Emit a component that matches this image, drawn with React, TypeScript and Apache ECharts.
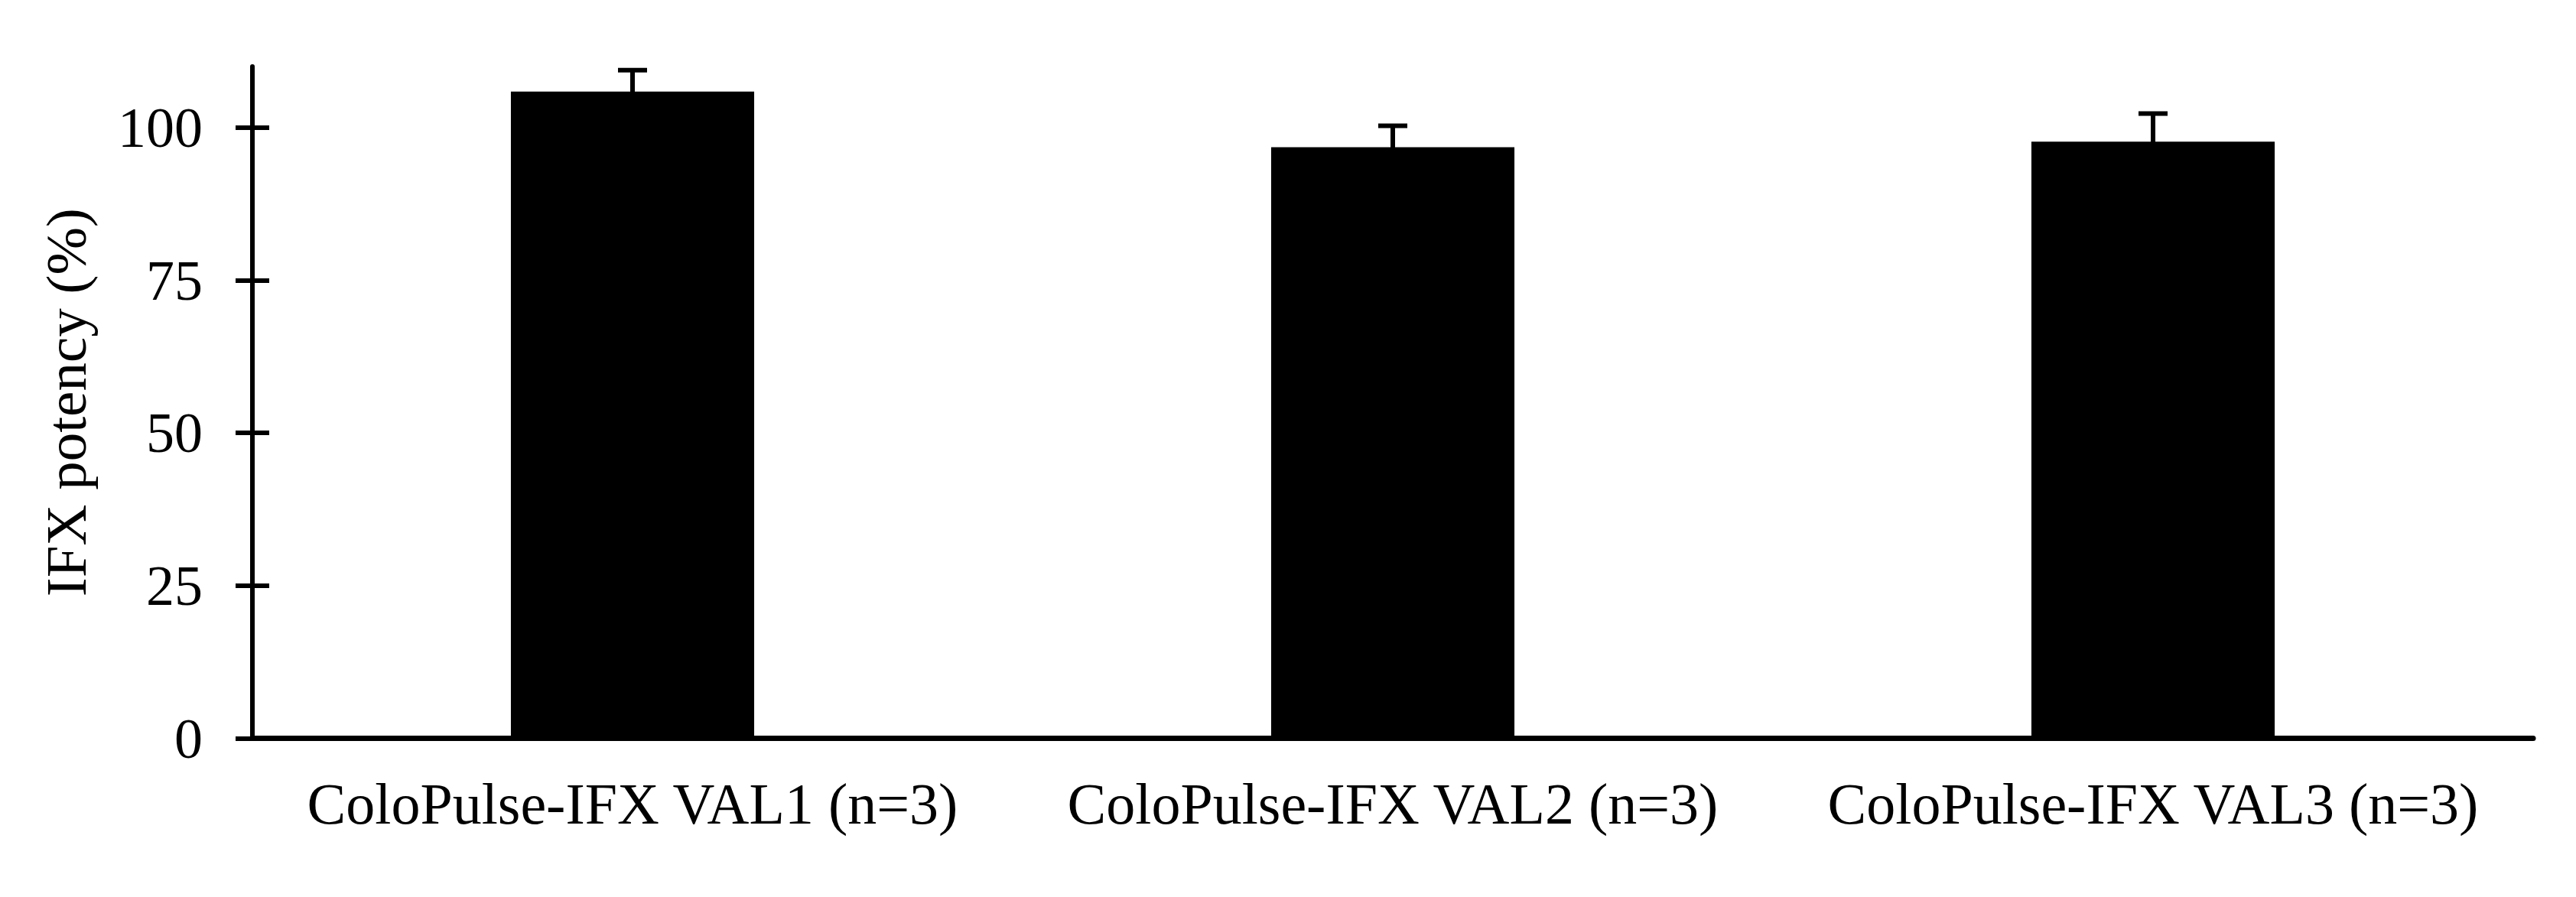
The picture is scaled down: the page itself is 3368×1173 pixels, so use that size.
import React, { useEffect, useRef } from "react";
import * as echarts from "echarts";

const categories = [
  "ColoPulse-IFX VAL1 (n=3)",
  "ColoPulse-IFX VAL2 (n=3)",
  "ColoPulse-IFX VAL3 (n=3)",
];
const potency = [105.9, 96.8, 97.7];
const potencyErr = [3.5, 3.5, 4.6];
const yTicks = [0, 25, 50, 75, 100];
const yTitle = "IFX potency (%)";

const FONT = "'Liberation Serif', 'Times New Roman', serif";

export default function App() {
  const ref = useRef<HTMLDivElement | null>(null);

  useEffect(() => {
    if (!ref.current) return;
    const chart = echarts.init(ref.current, null, { renderer: "svg" });

    const errData = categories.map((_, i) => [i, potency[i], potencyErr[i]]);

    chart.setOption({
      animation: false,
      backgroundColor: "#ffffff",
      grid: { left: 330, right: 56, top: 87, bottom: 207.5, containLabel: false },
      xAxis: {
        type: "category",
        data: categories,
        axisLine: { show: true, lineStyle: { color: "#000", width: 7 } },
        axisTick: { show: false },
        axisLabel: {
          color: "#000",
          fontFamily: FONT,
          fontSize: 76,
          margin: 47,
          interval: 0,
        },
      },
      yAxis: [
        {
          type: "value",
          min: 0,
          max: 110,
          interval: 25,
          name: yTitle,
          nameLocation: "middle",
          nameGap: 206,
          nameRotate: 90,
          nameTextStyle: { color: "#000", fontFamily: FONT, fontSize: 75 },
          axisLine: { show: true, lineStyle: { color: "#000", width: 6 } },
          axisTick: {
            show: true,
            inside: false,
            length: 22,
            lineStyle: { color: "#000", width: 6 },
            customValues: yTicks,
          },
          axisLabel: {
            color: "#000",
            fontFamily: FONT,
            fontSize: 74,
            margin: 65,
            customValues: yTicks,
          },
          splitLine: { show: false },
        },
        {
          type: "value",
          min: 0,
          max: 110,
          interval: 25,
          position: "left",
          axisLine: { show: false },
          axisTick: {
            show: true,
            inside: true,
            length: 22,
            lineStyle: { color: "#000", width: 6 },
            customValues: yTicks,
          },
          axisLabel: { show: false },
          splitLine: { show: false },
        },
      ],
      series: [
        {
          type: "bar",
          data: potency,
          barWidth: "32%",
          itemStyle: { color: "#000" },
          yAxisIndex: 0,
          z: 2,
        },
        {
          type: "custom",
          yAxisIndex: 0,
          data: errData,
          z: 3,
          renderItem: (params: any, api: any) => {
            const idx = api.value(0);
            const v = api.value(1);
            const e = api.value(2);
            const top = api.coord([idx, v + e]);
            const bot = api.coord([idx, v - e]);
            const half = 19;
            return {
              type: "group",
              children: [
                {
                  type: "line",
                  shape: { x1: top[0], y1: top[1], x2: bot[0], y2: bot[1] },
                  style: { stroke: "#000", lineWidth: 6 },
                },
                {
                  type: "line",
                  shape: { x1: top[0] - half, y1: top[1], x2: top[0] + half, y2: top[1] },
                  style: { stroke: "#000", lineWidth: 6 },
                },
              ],
            };
          },
        },
      ],
    });

    return () => {
      chart.dispose();
    };
  }, []);

  return (
    <div
      ref={ref}
      style={{ position: "fixed", left: 0, top: 0, width: 3368, height: 1173, background: "#fff" }}
    />
  );
}
